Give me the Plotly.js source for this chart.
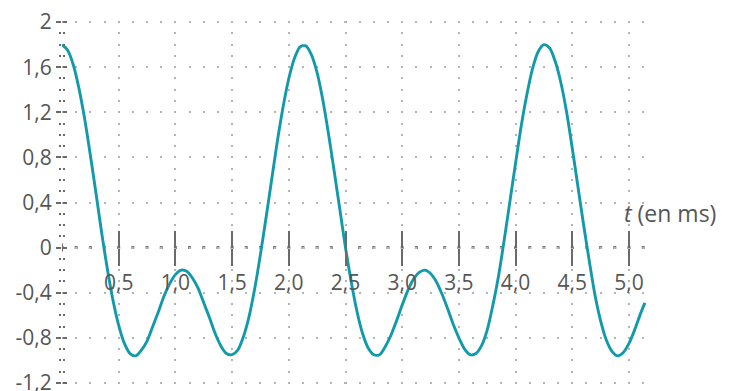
<!DOCTYPE html>
<html><head><meta charset="utf-8">
<script src="https://cdn.plot.ly/plotly-3.0.1.min.js"></script>
<style>html,body{margin:0;padding:0;background:#fff}</style>
</head><body><div id="chart" style="width:738px;height:391px"></div>
<script>
// time in ms and signal values
const time = [0,0.05,0.1,0.15,0.2,0.25,0.3,0.35,0.4,0.45,0.5,0.55,0.6,0.65,0.7,0.75,0.8,0.85,0.9,0.95,
  1.0,1.05,1.1,1.15,1.2,1.25,1.3,1.35,1.4,1.45,1.5,1.55,1.6,1.65,1.7,1.75,1.8,1.85,1.9,1.95,
  2.0,2.05,2.1,2.15,2.2,2.25,2.3,2.35,2.4,2.45,2.5,2.55,2.6,2.65,2.7,2.75,2.8,2.85,2.9,2.95,
  3.0,3.05,3.1,3.15,3.2,3.25,3.3,3.35,3.4,3.45,3.5,3.55,3.6,3.65,3.7,3.75,3.8,3.85,3.9,3.95,
  4.0,4.05,4.1,4.15,4.2,4.25,4.3,4.35,4.4,4.45,4.5,4.55,4.6,4.65,4.7,4.75,4.8,4.85,4.9,4.95,
  5.0,5.05,5.1,5.14];
const signal = [1.80,1.75,1.62,1.41,1.14,0.82,0.48,0.13,-0.19,-0.47,-0.69,-0.85,-0.94,-0.96,-0.91,-0.83,-0.70,-0.57,-0.43,-0.32,
  -0.24,-0.20,-0.21,-0.27,-0.36,-0.49,-0.62,-0.76,-0.87,-0.94,-0.95,-0.91,-0.79,-0.61,-0.36,-0.06,0.27,0.61,0.95,1.25,
  1.50,1.68,1.78,1.79,1.71,1.55,1.31,1.01,0.68,0.34,0.00,-0.30,-0.56,-0.76,-0.89,-0.95,-0.95,-0.88,-0.78,-0.65,
  -0.51,-0.38,-0.28,-0.22,-0.20,-0.23,-0.30,-0.41,-0.54,-0.68,-0.80,-0.90,-0.95,-0.94,-0.87,-0.73,-0.51,-0.25,0.07,0.41,
  0.75,1.08,1.36,1.59,1.74,1.80,1.77,1.65,1.46,1.20,0.88,0.54,0.20,-0.12,-0.42,-0.65,-0.82,-0.92,-0.96,-0.93,
  -0.85,-0.73,-0.59,-0.49];
const xTickVals = [0.5,1.0,1.5,2.0,2.5,3.0,3.5,4.0,4.5,5.0];
const xTickText = ['0,5','1,0','1,5','2,0','2,5','3,0','3,5','4,0','4,5','5,0'];
const yTickVals = [-1.2,-0.8,-0.4,0,0.4,0.8,1.2,1.6,2];
const yTickText = ['-1,2','-0,8','-0,4','0','0,4','0,8','1,2','1,6','2'];
const axisTitle = '<i>t</i> (en ms)';

const W = 738, H = 391;
const M = {l: 62, r: 92, t: 21, b: 7};
const xRange = [0, 5.15], yRange = [-1.21, 2.01];
const plotW = W - M.l - M.r, plotH = H - M.t - M.b;
const pxX = plotW / (xRange[1] - xRange[0]);
const pxY = plotH / (yRange[1] - yRange[0]);
const hStep = 0.125 * pxX, vStep = 0.1 * pxY;
const topOff = (yRange[1] - 2) * pxY; // distance from top edge to y=2
const hDash = '1px,' + (hStep - 2) + 'px,1px,0px';
const vDash = '0px,' + (topOff - 1) + 'px,2px,' + (vStep - topOff - 1) + 'px';
const axDash = '1.5px,' + (hStep - 3) + 'px,1.5px,0px';
const zeroPos = (0 - yRange[0]) / (yRange[1] - yRange[0]);

const tickCol = '#6a6a6a';
const labelFont = {family: 'Open Sans, sans-serif', size: 21, color: '#565656'};

const data = [
  {x: time, y: signal, type: 'scatter', mode: 'lines',
   line: {color: '#129aaa', width: 2.9, shape: 'spline', smoothing: 0.8},
   hoverinfo: 'skip', showlegend: false},
  {x: [null], y: [null], xaxis: 'x2', yaxis: 'y2', type: 'scatter', mode: 'lines',
   showlegend: false, hoverinfo: 'skip'}
];

const layout = {
  width: W, height: H, margin: M,
  paper_bgcolor: '#fff', plot_bgcolor: '#fff',
  showlegend: false,
  xaxis: {
    range: xRange, autorange: false, anchor: 'free', position: zeroPos,
    tickmode: 'array', tickvals: xTickVals, ticktext: xTickText,
    ticks: 'outside', ticklen: 17, tickwidth: 2, tickcolor: tickCol,
    showline: false, zeroline: false,
    showgrid: true, gridcolor: '#b4b4b4', gridwidth: 2, griddash: vDash,
    tickfont: labelFont, ticklabelstandoff: -1, ticklabeloverflow: 'allow', automargin: false
  },
  xaxis2: {
    range: xRange, autorange: false, overlaying: 'x', anchor: 'free', position: zeroPos,
    tickmode: 'array', tickvals: xTickVals, showticklabels: false,
    ticks: 'inside', ticklen: 17, tickwidth: 2, tickcolor: tickCol,
    showline: false, zeroline: false, showgrid: false, automargin: false
  },
  yaxis: {
    range: yRange, autorange: false,
    tickmode: 'array', tickvals: yTickVals, ticktext: yTickText,
    ticks: 'outside', ticklen: 5, tickwidth: 2, tickcolor: tickCol,
    minor: {dtick: 0.1, tick0: 0, ticks: 'outside', ticklen: 2, tickwidth: 2, tickcolor: tickCol, showgrid: false},
    showline: false, zeroline: false,
    showgrid: true, gridcolor: '#b4b4b4', gridwidth: 2, griddash: hDash,
    tickfont: labelFont, ticklabelstandoff: 0, ticklabeloverflow: 'allow', automargin: false
  },
  yaxis2: {
    range: yRange, autorange: false, overlaying: 'y', anchor: 'free', position: 0,
    tickmode: 'array', tickvals: yTickVals, showticklabels: false,
    ticks: 'inside', ticklen: 4, tickwidth: 2, tickcolor: tickCol,
    minor: {dtick: 0.1, tick0: 0, ticks: 'inside', ticklen: 2, tickwidth: 2, tickcolor: tickCol, showgrid: false},
    showline: false, zeroline: false, showgrid: false, automargin: false
  },
  shapes: [
    {type: 'line', xref: 'x', yref: 'y', x0: xRange[0], x1: xRange[1], y0: 0, y1: 0,
     line: {color: '#777', width: 3, dash: axDash}, layer: 'below'},
    {type: 'line', xref: 'x', yref: 'y', x0: 0, x1: 0, y0: -4 / pxY, y1: 4 / pxY,
     line: {color: tickCol, width: 2}}
  ],
  annotations: [
    {text: axisTitle, xref: 'x', yref: 'y', x: 4.94, y: 0.31, xanchor: 'left', yanchor: 'middle',
     showarrow: false, font: {family: 'Open Sans, sans-serif', size: 23, color: '#565656'}}
  ]
};

Plotly.newPlot('chart', data, layout, {staticPlot: true, displayModeBar: false});
</script></body></html>
